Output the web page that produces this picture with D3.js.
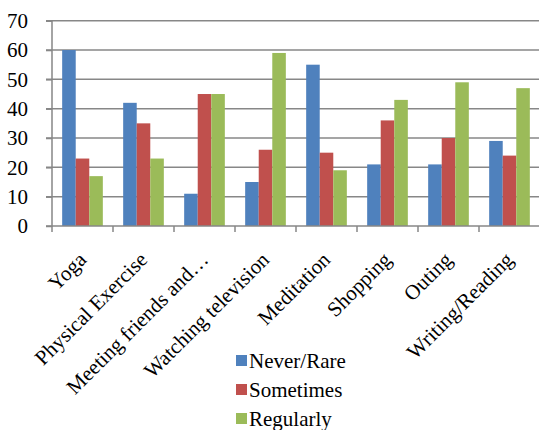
<!DOCTYPE html>
<html>
<head>
<meta charset="utf-8">
<script src="https://cdn.jsdelivr.net/npm/d3@7"></script>
<style>
  html, body { margin: 0; padding: 0; background: #fff; }
  svg { display: block; }
  text { font-family: "Liberation Serif", "Times New Roman", serif; fill: #000; }
</style>
</head>
<body>
<svg id="chart" width="539" height="430"></svg>
<script>
// Activities surveyed and how often respondents take part in each
const categories = ["Yoga", "Physical Exercise", "Meeting friends and\u2026", "Watching television",
                    "Meditation", "Shopping", "Outing", "Writing/Reading"];
const seriesNames = ["Never/Rare", "Sometimes", "Regularly"];
const neverRare = [60, 42, 11, 15, 55, 21, 21, 29];
const sometimes = [23, 35, 45, 26, 25, 36, 30, 24];
const regularly = [17, 23, 45, 59, 19, 43, 49, 47];
const yTicks = [0, 10, 20, 30, 40, 50, 60, 70];
const colors = ["#4F81BD", "#C0504D", "#9BBB59"];

const series = [neverRare, sometimes, regularly];

const svg = d3.select("#chart");
const plot = { left: 52, right: 540, top: 20.7, bottom: 226 };
const fontSize = "21px";

const x = d3.scaleBand()
  .domain(categories)
  .range([plot.left, plot.right])
  .paddingInner(0)
  .paddingOuter(0);

const y = d3.scaleLinear()
  .domain([0, 70])
  .range([plot.bottom, plot.top]);

// Bar cluster layout: 150% gap between category clusters
const groupWidth = x.bandwidth() / (3 + 1.5) * 3;
const xs = d3.scaleBand()
  .domain(d3.range(seriesNames.length))
  .range([0, groupWidth]);
const groupOffset = (x.bandwidth() - groupWidth) / 2;

// Horizontal gridlines
svg.append("g")
  .selectAll("line")
  .data(yTicks.filter(d => d > 0))
  .join("line")
  .attr("x1", plot.left - 6)
  .attr("x2", plot.right)
  .attr("y1", d => y(d))
  .attr("y2", d => y(d))
  .attr("stroke", "#878787")
  .attr("stroke-width", 1.5);

// Bars
const groups = svg.append("g")
  .selectAll("g")
  .data(categories)
  .join("g")
  .attr("transform", d => `translate(${x(d) + groupOffset},0)`);

groups.selectAll("rect")
  .data((c, i) => series.map((s, k) => ({ k, v: s[i] })))
  .join("rect")
  .attr("x", d => xs(d.k))
  .attr("width", xs.bandwidth())
  .attr("y", d => y(d.v))
  .attr("height", d => y(0) - y(d.v))
  .attr("fill", d => colors[d.k]);

// Y axis
const yAxis = svg.append("g")
  .attr("transform", `translate(${plot.left},0)`)
  .call(d3.axisLeft(y).tickValues(yTicks).tickSize(6).tickPadding(18).tickFormat(d3.format("d")));
yAxis.select(".domain").attr("stroke", "#878787").attr("stroke-width", 1.5)
  .attr("d", `M-6,${plot.bottom}H0V${plot.top}H-6`);
yAxis.selectAll(".tick line").attr("stroke", "#878787").attr("stroke-width", 1.5);
yAxis.selectAll(".tick text")
  .style("font-family", "'Liberation Serif', 'Times New Roman', serif")
  .style("font-size", fontSize)
  .attr("fill", "#000");

// X axis with tick marks between categories
const xAxisG = svg.append("g");
xAxisG.append("line")
  .attr("x1", plot.left).attr("x2", plot.right)
  .attr("y1", plot.bottom).attr("y2", plot.bottom)
  .attr("stroke", "#878787").attr("stroke-width", 1.5);
xAxisG.selectAll("line.tk")
  .data(categories)
  .join("line")
  .attr("class", "tk")
  .attr("x1", d => x(d)).attr("x2", d => x(d))
  .attr("y1", plot.bottom).attr("y2", plot.bottom + 6)
  .attr("stroke", "#878787").attr("stroke-width", 1.5);

// Rotated category labels
xAxisG.selectAll("text")
  .data(categories)
  .join("text")
  .attr("transform", d => `translate(${x(d) + x.bandwidth() / 2 + 5},${plot.bottom + 35}) rotate(-45)`)
  .attr("text-anchor", "end")
  .style("font-size", fontSize)
  .text(d => d);

// Legend
const legend = svg.append("g")
  .selectAll("g")
  .data(seriesNames)
  .join("g")
  .attr("transform", (d, i) => `translate(236,${355 + i * 29})`);
legend.append("rect")
  .attr("width", 11).attr("height", 11)
  .attr("fill", (d, i) => colors[i]);
legend.append("text")
  .attr("x", 13).attr("y", 12.5)
  .style("font-size", fontSize)
  .text(d => d);
</script>
</body>
</html>
